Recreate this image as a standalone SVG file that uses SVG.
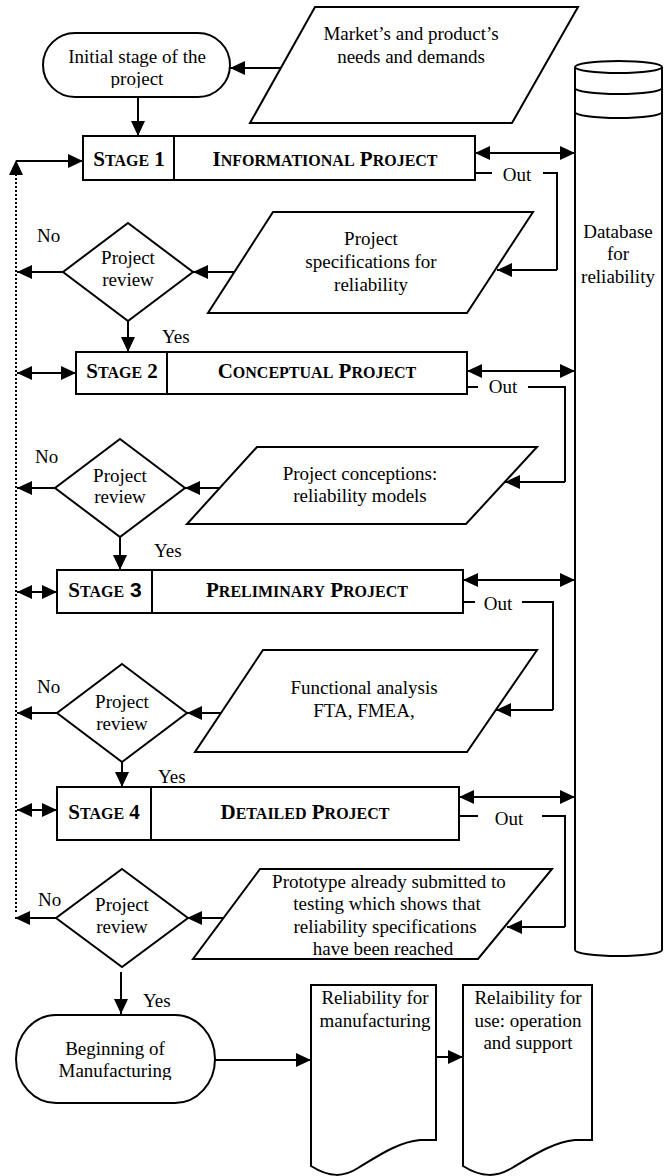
<svg xmlns="http://www.w3.org/2000/svg" width="669" height="1176" viewBox="0 0 669 1176">
<style>
.ln{stroke:#000;stroke-width:2;fill:none}
.sh{stroke:#000;stroke-width:2;fill:#fff}
.dot{stroke:#000;stroke-width:2;fill:none;stroke-dasharray:2 2}
.t{font-family:"Liberation Serif","Times New Roman",serif;font-size:19px;fill:#000}
.c{text-anchor:middle}
.b{font-weight:bold}
.big{font-size:21px}
.sm{font-size:16px}
.ar{marker-end:url(#ah)}
.da{marker-start:url(#ah);marker-end:url(#ah)}
</style>
<defs>
<marker id="ah" markerUnits="userSpaceOnUse" markerWidth="16" markerHeight="15" refX="15" refY="7" orient="auto-start-reverse" viewBox="0 0 16 15">
<path d="M0,0 L15,7 L0,14 Z" fill="#000"/>
</marker>
<clipPath id="clip1"><rect x="40" y="30" width="195" height="58"/></clipPath>
<clipPath id="clip2"><rect x="14" y="1012" width="205" height="68"/></clipPath>
</defs>
<rect width="669" height="1176" fill="#fff"/>

<g id="connectors">
<!-- market -> initial -->
<line class="ln ar" x1="281" y1="68" x2="230" y2="68"/>
<!-- initial -> stage1 -->
<line class="ln ar" x1="138" y1="97" x2="138" y2="136"/>
<!-- dotted return line -->
<line class="dot" x1="16" y1="174" x2="16" y2="913"/>
<polygon points="16,160 9,175 23,175" fill="#000"/>
<line class="ln ar" x1="16" y1="161" x2="83" y2="161"/>
<!-- stage1 <-> db -->
<line class="ln da" x1="475" y1="153" x2="575" y2="153"/>
<!-- stage1 out -->
<polyline class="ln" points="475,173 492,173"/>
<polyline class="ln" points="543,173 557,173 557,270"/>
<line class="ln ar" x1="557" y1="270" x2="497" y2="270"/>
<!-- spec -> review1 -->
<line class="ln ar" x1="234" y1="272" x2="193" y2="272"/>
<!-- review1 no -->
<line class="ln ar" x1="63" y1="272" x2="17" y2="272"/>
<!-- review1 yes -->
<line class="ln ar" x1="128" y1="321" x2="128" y2="352"/>
<!-- stage2 left -->
<line class="ln da" x1="17" y1="373" x2="76" y2="373"/>
<!-- stage2 <-> db -->
<line class="ln da" x1="467" y1="371" x2="575" y2="371"/>
<!-- stage2 out -->
<polyline class="ln" points="467,387 478,387"/>
<polyline class="ln" points="528,387 565,387 565,482"/>
<line class="ln ar" x1="565" y1="482" x2="505" y2="482"/>
<!-- concepts -> review2 -->
<line class="ln ar" x1="220" y1="488" x2="185" y2="488"/>
<line class="ln ar" x1="55" y1="488" x2="17" y2="488"/>
<line class="ln ar" x1="120" y1="537" x2="120" y2="570"/>
<!-- stage3 -->
<line class="ln da" x1="17" y1="592" x2="57" y2="592"/>
<line class="ln da" x1="463" y1="580" x2="575" y2="580"/>
<polyline class="ln" points="463,602 475,602"/>
<polyline class="ln" points="522,602 553,602 553,710"/>
<line class="ln ar" x1="553" y1="710" x2="496" y2="710"/>
<!-- functional -> review3 -->
<line class="ln ar" x1="221" y1="713" x2="187" y2="713"/>
<line class="ln ar" x1="57" y1="713" x2="17" y2="713"/>
<line class="ln ar" x1="122" y1="762" x2="122" y2="787"/>
<!-- stage4 -->
<line class="ln da" x1="17" y1="810" x2="57" y2="810"/>
<line class="ln da" x1="459" y1="797" x2="575" y2="797"/>
<polyline class="ln" points="459,816 478,816"/>
<polyline class="ln" points="542,816 565,816 565,927"/>
<line class="ln ar" x1="565" y1="927" x2="507" y2="927"/>
<!-- prototype -> review4 -->
<line class="ln ar" x1="227" y1="918" x2="187" y2="918"/>
<line class="ln ar" x1="57" y1="918" x2="15" y2="918"/>
<line class="ln ar" x1="121" y1="972" x2="121" y2="1014"/>
<!-- bottom -->
<line class="ln ar" x1="215" y1="1060" x2="311" y2="1060"/>
<line class="ln ar" x1="436" y1="1057" x2="463" y2="1057"/>
<!-- labels -->
<text class="t c" x="517" y="181">Out</text>
<text class="t c" x="503" y="393">Out</text>
<text class="t c" x="498" y="610">Out</text>
<text class="t c" x="509" y="825">Out</text>
<text class="t" x="37" y="242">No</text>
<text class="t" x="35" y="463">No</text>
<text class="t" x="37" y="693">No</text>
<text class="t" x="38" y="906">No</text>
<text class="t" x="162" y="343">Yes</text>
<text class="t" x="154" y="557">Yes</text>
<text class="t" x="158" y="783">Yes</text>
<text class="t" x="143" y="1007">Yes</text>
</g>

<g id="initial">
<rect class="sh" x="43" y="33" width="187" height="64" rx="32" ry="32"/>
<g clip-path="url(#clip1)">
<text class="t c" x="137" y="63">Initial stage of the</text>
<text class="t c" x="137" y="85">project</text>
</g>
</g>

<g id="market">
<polygon class="sh" points="315,7 578,7 512,123 250,123"/>
<text class="t c" x="411" y="40">Market’s and product’s</text>
<text class="t c" x="411" y="63">needs and demands</text>
</g>

<g id="database">
<path class="sh" d="M575,67 V950 A43.5,6 0 0 0 662,950 V67"/>
<ellipse class="sh" cx="618.5" cy="67" rx="43.5" ry="6"/>
<path class="ln" d="M575,88 A43.5,6 0 0 0 662,88"/>
<path class="ln" d="M575,112 A43.5,6 0 0 0 662,112"/>
<text class="t c" x="618" y="238">Database</text>
<text class="t c" x="618" y="260">for</text>
<text class="t c" x="618" y="283">reliability</text>
</g>

<g id="stage1">
<rect class="sh" x="83" y="136" width="392" height="44"/>
<line class="ln" x1="174" y1="136" x2="174" y2="180"/>
<text class="t b c" x="129" y="166"><tspan class="big">S</tspan><tspan class="sm">TAGE</tspan><tspan class="big"> 1</tspan></text>
<text class="t b c" x="325" y="166"><tspan class="big">I</tspan><tspan class="sm">NFORMATIONAL</tspan><tspan class="big"> P</tspan><tspan class="sm">ROJECT</tspan></text>
</g>

<g id="spec">
<polygon class="sh" points="273,212 533,212 467,313 208,313"/>
<text class="t c" x="371" y="245">Project</text>
<text class="t c" x="371" y="268">specifications for</text>
<text class="t c" x="371" y="291">reliability</text>
</g>

<g id="review1">
<polygon class="sh" points="128,223 193,272 128,321 63,272"/>
<text class="t c" x="128" y="264">Project</text>
<text class="t c" x="128" y="286">review</text>
</g>

<g id="stage2">
<rect class="sh" x="76" y="352" width="391" height="42"/>
<line class="ln" x1="167" y1="352" x2="167" y2="394"/>
<text class="t b c" x="122" y="378"><tspan class="big">S</tspan><tspan class="sm">TAGE</tspan><tspan class="big"> 2</tspan></text>
<text class="t b c" x="317" y="378"><tspan class="big">C</tspan><tspan class="sm">ONCEPTUAL</tspan><tspan class="big"> P</tspan><tspan class="sm">ROJECT</tspan></text>
</g>

<g id="concepts">
<polygon class="sh" points="257,447 537,447 466,524 187,524"/>
<text class="t c" x="360" y="480">Project conceptions:</text>
<text class="t c" x="360" y="502">reliability models</text>
</g>

<g id="review2">
<polygon class="sh" points="120,439 185,488 120,537 55,488"/>
<text class="t c" x="120" y="482">Project</text>
<text class="t c" x="120" y="503">review</text>
</g>

<g id="stage3">
<rect class="sh" x="57" y="570" width="406" height="43"/>
<line class="ln" x1="152" y1="570" x2="152" y2="613"/>
<text class="t b c" x="105" y="597"><tspan class="big">S</tspan><tspan class="sm">TAGE</tspan><tspan class="big" font-family="Liberation Sans, Arial, sans-serif"> 3</tspan></text>
<text class="t b c" x="307" y="597"><tspan class="big">P</tspan><tspan class="sm">RELIMINARY</tspan><tspan class="big"> P</tspan><tspan class="sm">ROJECT</tspan></text>
</g>

<g id="functional">
<polygon class="sh" points="263,650 537,650 467,752 195,752"/>
<text class="t c" x="364" y="694">Functional analysis</text>
<text class="t c" x="364" y="717">FTA, FMEA,</text>
</g>

<g id="review3">
<polygon class="sh" points="122,664 187,713 122,762 57,713"/>
<text class="t c" x="122" y="708">Project</text>
<text class="t c" x="122" y="730">review</text>
</g>

<g id="stage4">
<rect class="sh" x="57" y="787" width="402" height="53"/>
<line class="ln" x1="151" y1="787" x2="151" y2="840"/>
<text class="t b c" x="104" y="819"><tspan class="big">S</tspan><tspan class="sm">TAGE</tspan><tspan class="big"> 4</tspan></text>
<text class="t b c" x="305" y="819"><tspan class="big">D</tspan><tspan class="sm">ETAILED</tspan><tspan class="big"> P</tspan><tspan class="sm">ROJECT</tspan></text>
</g>

<g id="prototype">
<polygon class="sh" points="260,869 552,869 478,959 193,959"/>
<text class="t c" x="389" y="888">Prototype already submitted to</text>
<text class="t c" x="387" y="910">testing which shows that</text>
<text class="t c" x="385" y="933">reliability specifications</text>
<text class="t c" x="383" y="955">have been reached</text>
</g>

<g id="review4">
<polygon class="sh" points="122,869 188,918 122,967 56,918"/>
<text class="t c" x="122" y="911">Project</text>
<text class="t c" x="122" y="933">review</text>
</g>

<g id="manufacturing">
<rect class="sh" x="16" y="1015" width="199" height="88" rx="40" ry="44"/>
<g clip-path="url(#clip2)">
<text class="t c" x="115" y="1055">Beginning of</text>
<text class="t c" x="115" y="1077">Manufacturing</text>
</g>
</g>

<g id="doc1">
<path class="sh" d="M311,985 H436 V1140 H420 C398,1142 378,1156 358,1168 C344,1177 330,1178 311,1166 Z"/>
<text class="t c" x="375" y="1004">Reliability for</text>
<text class="t c" x="375" y="1027">manufacturing</text>
</g>

<g id="doc2">
<path class="sh" d="M463,985 H592 V1140 H575 C553,1142 532,1156 512,1168 C497,1177 482,1178 463,1166 Z"/>
<text class="t c" x="528" y="1004">Relaibility for</text>
<text class="t c" x="528" y="1027">use: operation</text>
<text class="t c" x="528" y="1049">and support</text>
</g>
</svg>
